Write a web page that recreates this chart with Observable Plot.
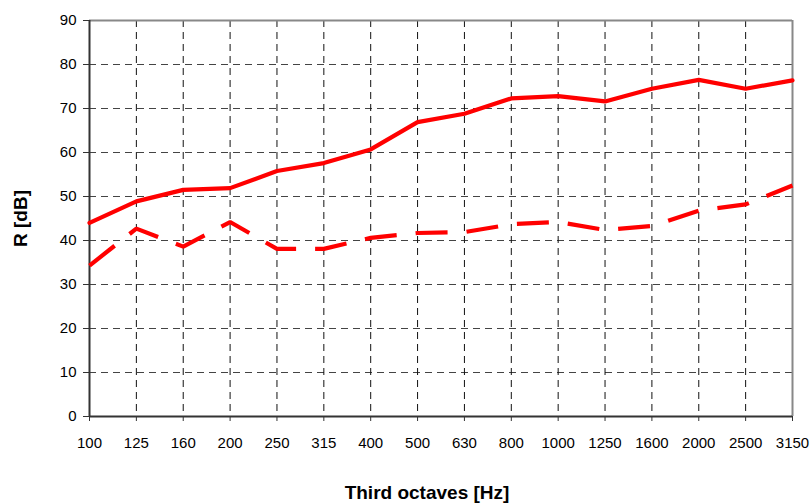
<!DOCTYPE html>
<html>
<head>
<meta charset="utf-8">
<script src="https://cdn.jsdelivr.net/npm/d3@7"></script>
<script src="https://cdn.jsdelivr.net/npm/@observablehq/plot@0.6"></script>
<style>
  html, body { margin: 0; padding: 0; background: #fff; }
  #chart { width: 812px; height: 504px; }
</style>
</head>
<body>
<div id="chart"></div>
<script>
const freqs = ["100","125","160","200","250","315","400","500","630","800","1000","1250","1600","2000","2500","3150"];
const solidValues = [44.0, 48.9, 51.5, 51.9, 55.8, 57.6, 60.7, 66.9, 68.8, 72.3, 72.8, 71.6, 74.5, 76.5, 74.5, 76.4];
const dashedValues = [34.3, 42.7, 38.6, 44.2, 38.1, 38.1, 40.6, 41.7, 41.9, 43.7, 44.2, 42.4, 43.3, 46.8, 48.2, 52.5];
const yTicks = [0, 10, 20, 30, 40, 50, 60, 70, 80, 90];
const xTitle = "Third octaves [Hz]";
const yTitle = "R [dB]";

const solidData = freqs.map((f, i) => ({ f, v: solidValues[i] }));
const dashedData = freqs.map((f, i) => ({ f, v: dashedValues[i] }));

const chart = Plot.plot({
  width: 812,
  height: 504,
  marginLeft: 89,
  marginRight: 20,
  marginTop: 20,
  marginBottom: 88,
  style: { fontFamily: "'Liberation Sans', Arial, sans-serif", fontSize: "15px", color: "#000", background: "#fff" },
  x: { type: "point", domain: freqs, padding: 0, round: false, label: null },
  y: { domain: [0, 90], ticks: yTicks, label: null },
  marks: [
    Plot.ruleY(yTicks.slice(1, -1), { stroke: "#444", strokeWidth: 1, strokeDasharray: "7,5" }),
    Plot.ruleX(freqs.slice(1, -1), { stroke: "#111", strokeWidth: 1, strokeDasharray: "7,5" }),
    Plot.ruleY([90], { stroke: "#888", strokeWidth: 2 }),
    Plot.ruleX([freqs[freqs.length - 1]], { stroke: "#888", strokeWidth: 2 }),
    Plot.axisY({ ticks: yTicks, tickSize: 6, tickPadding: 7, label: null, stroke: "#333" }),
    Plot.axisX({ tickSize: 5, tickPadding: 16, label: null, stroke: "#333" }),
    Plot.ruleY([0], { stroke: "#333", strokeWidth: 2 }),
    Plot.ruleX([freqs[0]], { stroke: "#333", strokeWidth: 2 }),
    Plot.line(solidData, { x: "f", y: "v", stroke: "#ff0000", strokeWidth: 4.2, strokeLinejoin: "miter" }),
    Plot.line(dashedData, { x: "f", y: "v", stroke: "#ff0000", strokeWidth: 4.2, strokeDasharray: "32,19", strokeLinecap: "butt", strokeLinejoin: "miter" }),
    Plot.text([xTitle], { frameAnchor: "bottom", dy: 76, dx: -14, textAnchor: "middle", lineAnchor: "middle", fontWeight: "bold", fontSize: 19 }),
    Plot.text([yTitle], { frameAnchor: "left", dx: -69, rotate: -90, textAnchor: "middle", lineAnchor: "middle", fontWeight: "bold", fontSize: 19 })
  ]
});
document.getElementById("chart").appendChild(chart);
</script>
</body>
</html>
